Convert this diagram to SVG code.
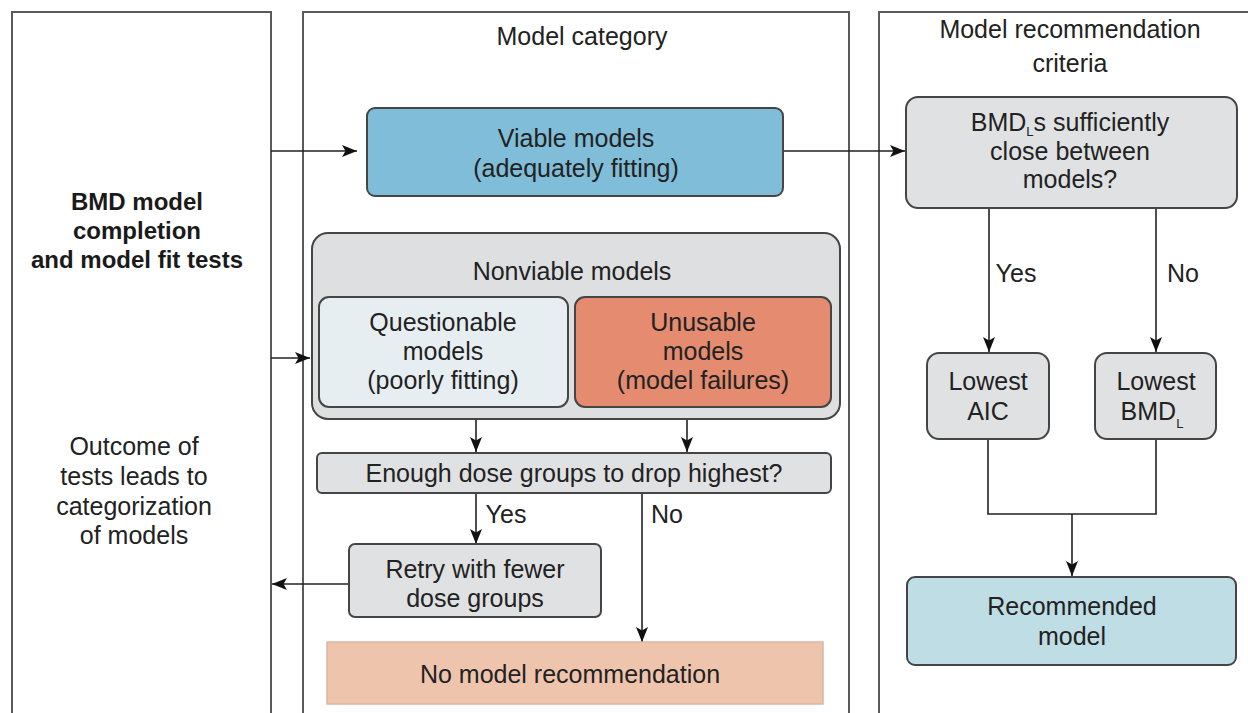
<svg xmlns="http://www.w3.org/2000/svg" width="1248" height="713" viewBox="0 0 1248 713">
<defs>
<marker id="ah" markerWidth="16" markerHeight="14" refX="15" refY="7" orient="auto" markerUnits="userSpaceOnUse">
<path d="M0,1 L15,7 L0,13 L3.5,7 z" fill="#111"/>
</marker>
<style>
.panel{fill:none;stroke:#5a5a5a;stroke-width:2}
.box{stroke:#454545;stroke-width:2}
.grey{fill:#e0e1e3}
.t{font-family:"Liberation Sans",Arial,sans-serif;font-size:25px;fill:#222;text-anchor:middle}
.tb{font-family:"Liberation Sans",Arial,sans-serif;font-size:24px;font-weight:bold;fill:#1a1a1a;text-anchor:middle}
.sub{font-size:13px}
.conn{fill:none;stroke:#222;stroke-width:1.6}
</style>
</defs>
<rect width="1248" height="713" fill="#fff"/>

<g id="panels">
<path class="panel" d="M12,714 V12 H271 V714"/>
<path class="panel" d="M303,714 V12 H849 V714"/>
<path class="panel" d="M879,714 V12 H1250"/>
</g>

<g id="panel-left-text">
<text class="tb" x="137" y="210">BMD model</text>
<text class="tb" x="137" y="239">completion</text>
<text class="tb" x="137" y="268">and model fit tests</text>
<text class="t" x="134" y="455">Outcome of</text>
<text class="t" x="134" y="485">tests leads to</text>
<text class="t" x="134" y="515">categorization</text>
<text class="t" x="134" y="544">of models</text>
</g>

<g id="headers">
<text class="t" x="582" y="45">Model category</text>
<text class="t" x="1070" y="38">Model recommendation</text>
<text class="t" x="1070" y="72">criteria</text>
</g>

<g id="connectors">
<line class="conn" x1="271" y1="151" x2="357" y2="151" marker-end="url(#ah)"/>
<line class="conn" x1="271" y1="358" x2="310" y2="358" marker-end="url(#ah)"/>
<line class="conn" x1="784" y1="151" x2="905" y2="151" marker-end="url(#ah)"/>
<line class="conn" x1="476" y1="407" x2="476" y2="452" marker-end="url(#ah)"/>
<line class="conn" x1="687" y1="407" x2="687" y2="452" marker-end="url(#ah)"/>
<line class="conn" x1="476" y1="493" x2="476" y2="544" marker-end="url(#ah)"/>
<line class="conn" x1="642" y1="493" x2="642" y2="642" marker-end="url(#ah)"/>
<line class="conn" x1="349" y1="584" x2="272" y2="584" marker-end="url(#ah)"/>
<line class="conn" x1="989" y1="208" x2="989" y2="352" marker-end="url(#ah)"/>
<line class="conn" x1="1156" y1="208" x2="1156" y2="352" marker-end="url(#ah)"/>
<path class="conn" d="M988,439 V514 H1156 V439"/>
<line class="conn" x1="1072" y1="514" x2="1072" y2="576" marker-end="url(#ah)"/>
<text class="t" x="1016" y="282">Yes</text>
<text class="t" x="1183" y="282">No</text>
<text class="t" x="506" y="523">Yes</text>
<text class="t" x="667" y="523">No</text>
</g>

<g id="viable">
<rect class="box" x="367" y="108" width="416" height="88" rx="8" fill="#80bdd8"/>
<text class="t" x="576" y="147">Viable models</text>
<text class="t" x="576" y="177">(adequately fitting)</text>
</g>

<g id="nonviable">
<rect class="box" x="312" y="233" width="528" height="186" rx="16" fill="#dedfe1"/>
<text class="t" x="572" y="280">Nonviable models</text>
</g>

<g id="questionable">
<rect class="box" x="319" y="297" width="249" height="110" rx="10" fill="#e7eef1"/>
<text class="t" x="443" y="331">Questionable</text>
<text class="t" x="443" y="360">models</text>
<text class="t" x="443" y="389">(poorly fitting)</text>
</g>

<g id="unusable">
<rect class="box" x="575" y="297" width="256" height="110" rx="10" fill="#e48b70"/>
<text class="t" x="703" y="331">Unusable</text>
<text class="t" x="703" y="360">models</text>
<text class="t" x="703" y="389">(model failures)</text>
</g>

<g id="enough">
<rect class="box grey" x="317" y="453" width="514" height="40" rx="5"/>
<text class="t" x="574" y="482">Enough dose groups to drop highest?</text>
</g>

<g id="retry">
<rect class="box grey" x="349" y="544" width="252" height="73" rx="6"/>
<text class="t" x="475" y="578">Retry with fewer</text>
<text class="t" x="475" y="607">dose groups</text>
</g>

<g id="no-recommendation">
<rect x="327" y="642" width="496" height="62" fill="#efc4ad" stroke="#dab6a2" stroke-width="1.5"/>
<text class="t" x="570" y="683">No model recommendation</text>
</g>

<g id="bmdl-close">
<rect class="box grey" x="906" y="97" width="331" height="111" rx="12"/>
<text class="t" x="1070" y="131">BMD<tspan class="sub" dy="5">L</tspan><tspan dy="-5">s sufficiently</tspan></text>
<text class="t" x="1070" y="160">close between</text>
<text class="t" x="1070" y="188">models?</text>
</g>

<g id="lowest-aic">
<rect class="box grey" x="927" y="353" width="122" height="86" rx="12"/>
<text class="t" x="988" y="390">Lowest</text>
<text class="t" x="988" y="420">AIC</text>
</g>

<g id="lowest-bmdl">
<rect class="box grey" x="1095" y="353" width="121" height="86" rx="12"/>
<text class="t" x="1156" y="390">Lowest</text>
<text class="t" x="1152" y="420">BMD<tspan class="sub" dy="8">L</tspan></text>
</g>

<g id="recommended">
<rect class="box" x="907" y="577" width="329" height="88" rx="8" fill="#bfdde5"/>
<text class="t" x="1072" y="615">Recommended</text>
<text class="t" x="1072" y="645">model</text>
</g>
</svg>
